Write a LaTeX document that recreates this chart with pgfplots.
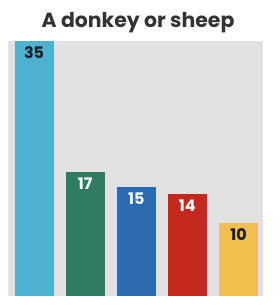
\documentclass[border=0pt]{standalone}
\usepackage{pgfplots}
\pgfplotsset{compat=1.18}
\usepackage{fontspec}
\setmainfont{Poppins}
\definecolor{cA}{HTML}{4DB1CF}
\definecolor{cB}{HTML}{2F7C5E}
\definecolor{cC}{HTML}{2C6BB1}
\definecolor{cD}{HTML}{C5281F}
\definecolor{cE}{HTML}{F2BE4F}
\definecolor{panel}{HTML}{E1E1E1}
\definecolor{dark}{HTML}{1A1C28}
\definecolor{titlec}{HTML}{333333}
\begin{document}
\begin{tikzpicture}
\path[use as bounding box] (-8bp,-10bp) rectangle (272bp,296bp);
\begin{axis}[
  at={(0,0)}, anchor=south west,
  scale only axis, width=255bp, height=255bp,
  xmin=-0.51, xmax=4.48, ymin=0, ymax=35,
  axis line style={draw=none}, ticks=none,
  axis background/.style={fill=panel},
  clip=false,
  /pgf/number format/assume math mode=true,
  every axis plot/.append style={ybar, bar width=39bp, bar shift=0pt, draw=none},
  nodes near coords,
  nodes near coords style={anchor=north, inner sep=0pt, yshift=-5.5bp, font=\fontsize{16}{16}\selectfont\bfseries},
]
\addplot[fill=cA, nodes near coords style={text=dark}] coordinates {(0,35)};
\addplot[fill=cB, nodes near coords style={text=white}] coordinates {(1,17)};
\addplot[fill=cC, nodes near coords style={text=white}] coordinates {(2,15)};
\addplot[fill=cD, nodes near coords style={text=white}] coordinates {(3,14)};
\addplot[fill=cE, nodes near coords style={text=dark}] coordinates {(4,10)};
\node[anchor=base, text=titlec, font=\fontsize{20.5}{20.5}\selectfont\bfseries] at (rel axis cs:0.51,1) [yshift=14bp] {A donkey or sheep};
\end{axis}
\end{tikzpicture}
\end{document}
